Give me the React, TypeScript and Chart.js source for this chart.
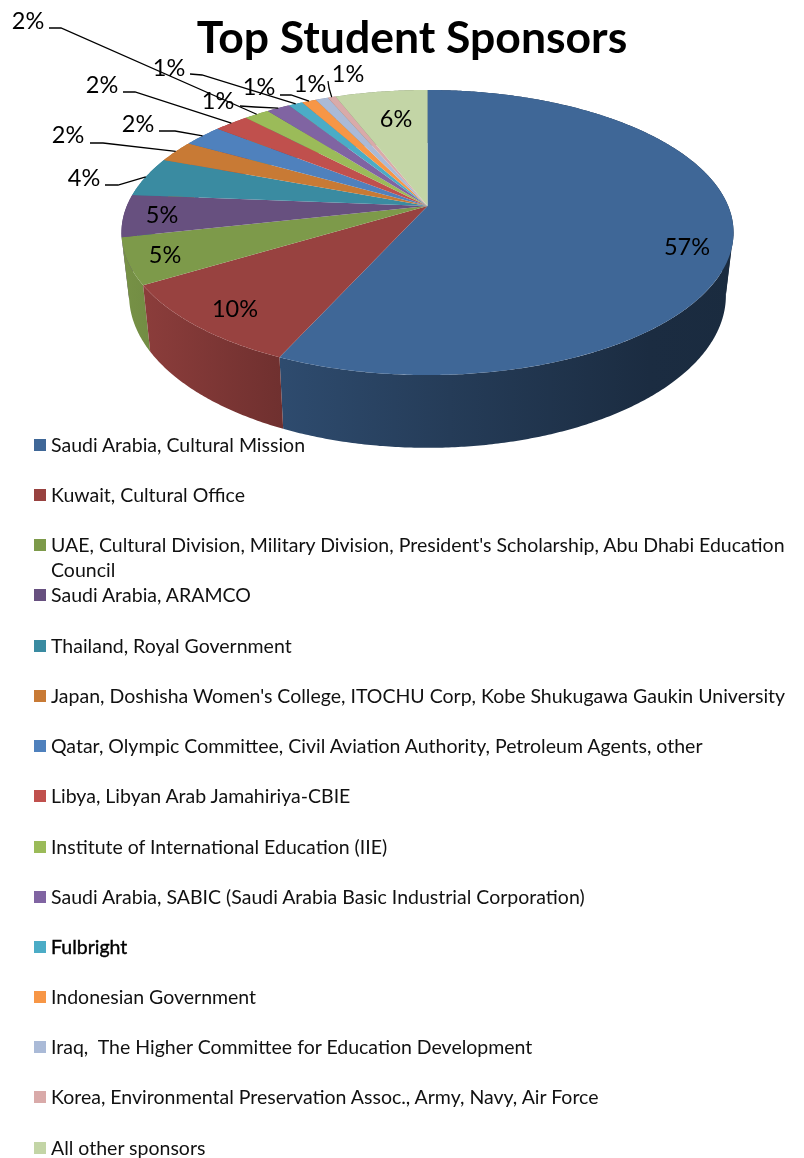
import React, { useEffect, useRef } from "react";
import { Chart, registerables } from "chart.js";

Chart.register(...registerables);

const TITLE = "Top Student Sponsors";
const categories = [
  "Saudi Arabia, Cultural Mission",
  "Kuwait, Cultural Office",
  "UAE, Cultural Division, Military Division, President's Scholarship, Abu Dhabi Education Council",
  "Saudi Arabia, ARAMCO",
  "Thailand, Royal Government",
  "Japan, Doshisha Women's College, ITOCHU Corp, Kobe Shukugawa Gaukin University",
  "Qatar, Olympic Committee, Civil Aviation Authority, Petroleum Agents, other",
  "Libya, Libyan Arab Jamahiriya-CBIE",
  "Institute of International Education (IIE)",
  "Saudi Arabia, SABIC (Saudi Arabia Basic Industrial Corporation)",
  "Fulbright",
  "Indonesian Government",
  "Iraq,  The Higher Committee for Education Development",
  "Korea, Environmental Preservation Assoc., Army, Navy, Air Force",
  "All other sponsors",
];
const values = [56.7, 9.6, 5.2, 4.8, 4.49, 2.49, 2.49, 2.2, 1.6, 1.49, 0.9, 0.9, 0.8, 0.5, 5.84];
const colors = [
  "#3F6797", "#984240", "#7D9A4A", "#67507F", "#3A8BA1", "#C87A35", "#4F81BD", "#C0504D",
  "#9BBB59", "#8064A2", "#4BACC6", "#F79646", "#AABAD7", "#D9AAA9", "#C3D5A6",
];

// Layout of the percent labels: centre of the text, and the elbow of the leader line if any.
const labelLayout: { x: number; y: number; from?: [number, number]; elbow?: [number, number] }[] = [
  { x: 687, y: 247 },
  { x: 235, y: 309 },
  { x: 165, y: 255 },
  { x: 162, y: 215 },
  { x: 84, y: 178, from: [105, 185], elbow: [118, 185] },
  { x: 68, y: 135, from: [90, 143], elbow: [103, 143] },
  { x: 138, y: 124, from: [159, 131], elbow: [175, 131] },
  { x: 102, y: 85, from: [123, 92], elbow: [135, 92] },
  { x: 28, y: 21, from: [49, 28], elbow: [61, 28] },
  { x: 218, y: 101, from: [240, 106], elbow: [255, 107] },
  { x: 169, y: 68, from: [190, 74], elbow: [202, 75] },
  { x: 259, y: 87, from: [280, 95], elbow: [291, 95] },
  { x: 310, y: 84 },
  { x: 348, y: 74, from: [328, 81], elbow: [329, 88] },
  { x: 396, y: 119 },
];

const CX = 427.5;
const TOP = { sx: 300.7, sy: 137.6, y0: 206 };
const BOTTOM = { sx: 293.2, sy: 147.2, y0: 267 };
const K = 0.186;
const RIGHT_FOLD = Math.asin(K);
const LEFT_FOLD = Math.PI - RIGHT_FOLD;

const project = (a: number, disc: typeof TOP): [number, number] => {
  const u = Math.cos(a);
  const v = Math.sin(a);
  const w = 1 - K * v;
  return [CX + (disc.sx * u) / w, disc.y0 + (disc.sy * v) / w];
};

const shadeStops: [number, number][] = [[122, 0.95], [283, 0.73], [450, 0.58], [650, 0.43], [740, 0.42]];
const shade = (hex: string, f: number) => {
  const n = parseInt(hex.slice(1), 16);
  return `rgb(${Math.round((n >> 16) * f)},${Math.round(((n >> 8) & 255) * f)},${Math.round((n & 255) * f)})`;
};

const pie3d = {
  id: "pie3d",
  beforeDatasetsDraw(chart: any) {
    const ctx: CanvasRenderingContext2D = chart.ctx;
    const arcs = chart.getDatasetMeta(0).data;
    const STEP = Math.PI / 360;
    const x0 = shadeStops[0][0];
    const x1 = shadeStops[shadeStops.length - 1][0];
    ctx.save();
    // side wall, back slices first; each slice is cut where the wall folds over at the silhouette
    const order = arcs
      .map((_: any, i: number) => i)
      .sort((a: number, b: number) => {
        const mid = (k: number) => Math.sin((arcs[k].startAngle + arcs[k].endAngle) / 2);
        return mid(a) - mid(b);
      });
    order.forEach((i: number) => {
      const arc = arcs[i];
      const g = ctx.createLinearGradient(x0, 0, x1, 0);
      shadeStops.forEach(([x, f]) => g.addColorStop((x - x0) / (x1 - x0), shade(colors[i], f)));
      ctx.fillStyle = g;
      const cuts = [RIGHT_FOLD, LEFT_FOLD].filter((c) => c > arc.startAngle && c < arc.endAngle);
      const bounds = [arc.startAngle, ...cuts, arc.endAngle];
      for (let r = 0; r < bounds.length - 1; r++) {
        const a0 = Math.max(arc.startAngle, bounds[r] - 0.01);
        const a1 = bounds[r + 1];
        const n = Math.max(2, Math.ceil((a1 - a0) / STEP));
        const at = (s: number) => a0 + ((a1 - a0) * s) / n;
        ctx.beginPath();
        for (let s = 0; s <= n; s++) {
          const p = project(at(s), TOP);
          if (s === 0) ctx.moveTo(p[0], p[1]);
          else ctx.lineTo(p[0], p[1]);
        }
        for (let s = n; s >= 0; s--) {
          const p = project(at(s), BOTTOM);
          ctx.lineTo(p[0], p[1]);
        }
        ctx.closePath();
        ctx.fill();
      }
    });
    // top face
    arcs.forEach((arc: any, i: number) => {
      ctx.fillStyle = colors[i];
      ctx.beginPath();
      ctx.moveTo(CX, TOP.y0);
      const n = Math.max(2, Math.ceil((arc.endAngle - arc.startAngle) / STEP));
      for (let s = 0; s <= n; s++) {
        const p = project(arc.startAngle + ((arc.endAngle - arc.startAngle) * s) / n, TOP);
        ctx.lineTo(p[0], p[1]);
      }
      ctx.closePath();
      ctx.fill();
    });
    // leader lines and percent labels
    ctx.strokeStyle = "#000";
    ctx.lineWidth = 1.3;
    arcs.forEach((arc: any, i: number) => {
      const l = labelLayout[i];
      if (l.from && l.elbow) {
        const e = project((arc.startAngle + arc.endAngle) / 2, TOP);
        ctx.beginPath();
        ctx.moveTo(l.from[0], l.from[1]);
        ctx.lineTo(l.elbow[0], l.elbow[1]);
        ctx.lineTo(e[0], e[1]);
        ctx.stroke();
      }
    });
    ctx.fillStyle = "#000";
    ctx.font = "23.5px Lato";
    ctx.textAlign = "center";
    ctx.textBaseline = "middle";
    arcs.forEach((_: any, i: number) => {
      ctx.fillText(`${Math.round(values[i])}%`, labelLayout[i].x, labelLayout[i].y);
    });
    ctx.font = "bold 44.5px Lato";
    ctx.fillText(TITLE, 412, 39);
    ctx.restore();
    return false;
  },
};

const rowTops = [445, 495, 545, 595, 646, 696, 746, 796, 847, 897, 947, 997, 1047, 1097, 1148];

export default function App() {
  const ref = useRef<HTMLCanvasElement>(null);
  useEffect(() => {
    document.body.style.margin = "0";
    const chart = new Chart(ref.current!, {
      type: "pie",
      data: { labels: categories, datasets: [{ data: values, backgroundColor: colors, borderWidth: 0 }] },
      options: {
        responsive: false,
        animation: false,
        plugins: { legend: { display: false }, title: { display: false }, tooltip: { enabled: false } },
      },
      plugins: [pie3d],
    } as any);
    return () => chart.destroy();
  }, []);
  return (
    <div style={{ position: "relative", width: 804, height: 1158, overflow: "hidden", background: "#fff", fontFamily: "Lato", fontSize: 19.5, color: "#111" }}>
      <canvas ref={ref} width={804} height={1158} style={{ position: "absolute", left: 0, top: 0 }} />
      {categories.map((c, i) => (
        <div key={c} style={{ position: "absolute", left: 0, top: rowTops[i] - 13.5, width: 804, height: 25 }}>
          <span style={{ position: "absolute", left: 34, top: 7, width: 12, height: 12, background: colors[i] }} />
          <span
            style={{
              position: "absolute",
              left: 51,
              top: 0,
              width: 745,
              lineHeight: "25px",
              whiteSpace: "pre-wrap",
              color: c === "Fulbright" ? "#000" : undefined,
              WebkitTextStroke: c === "Fulbright" ? "0.4px #000" : undefined,
            }}
          >
            {c}
          </span>
        </div>
      ))}
    </div>
  );
}
